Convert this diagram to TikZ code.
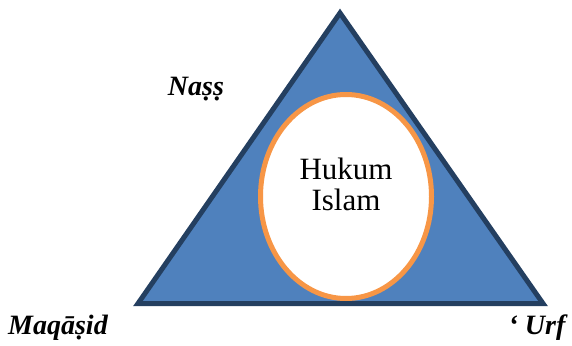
\documentclass[tikz,border=0pt]{standalone}
\usepackage{fontspec}
\setmainfont{Liberation Serif}
\definecolor{triblue}{HTML}{4F81BD}
\definecolor{trinavy}{HTML}{243F60}
\definecolor{ringorange}{HTML}{F79646}
\begin{document}
\begin{tikzpicture}[x=1pt,y=-1pt,
  tri/.style={fill=triblue,draw=trinavy,line width=5pt,line join=miter},
  ring/.style={fill=white,draw=ringorange,line width=5pt},
  lbl/.style={font=\fontsize{28}{32}\selectfont\bfseries\itshape,inner sep=0pt,anchor=base},
  ctr/.style={font=\fontsize{31}{31}\selectfont,align=center,inner sep=0pt}]
\useasboundingbox (0,0) rectangle (572,345);
\coordinate (top) at (340,13);
\coordinate (bl) at (138,303.5);
\coordinate (br) at (543,303.5);
\draw[tri] (top) -- (bl) -- (br) -- cycle;
\draw[ring] (346,196.5) ellipse [x radius=85.5, y radius=102];
\node[ctr] (hukum) at (346,184) {Hukum\\Islam};
\node[lbl] (nass) at (196,95) {Naṣṣ};
\node[lbl] (maqasid) at (58,334) {Maqāṣid};
\node[lbl] (urf) at (537,334) {‘ Urf};
\end{tikzpicture}
\end{document}
